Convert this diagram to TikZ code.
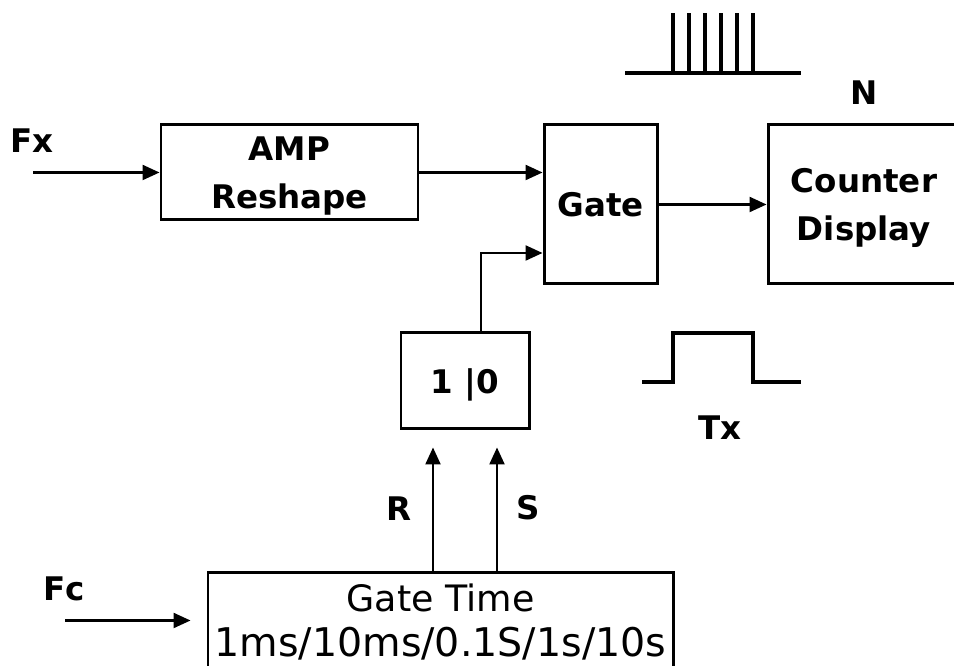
\documentclass[tikz,border=0pt]{standalone}
\usepackage{fontspec}
\setmainfont{DejaVu Sans}
\usetikzlibrary{arrows.meta}

\begin{document}
\begin{tikzpicture}[
    blk/.style={draw,line width=1.7pt,inner sep=0pt,align=center,text depth=0pt,font=\fontsize{18.5}{27.3}\selectfont\bfseries},
    lbl/.style={inner sep=0pt,font=\fontsize{18.5}{22}\selectfont\bfseries},
    conn/.style={line width=1.3pt,-{Triangle[length=0.34cm,width=0.3cm]}},
    sig/.style={line width=2pt}
]
    \useasboundingbox (0,0) rectangle (19.08,13.32);
    \clip (0,0) rectangle (19.08,13.32);

    \node[blk,minimum width=5.14cm,minimum height=1.9cm] (amp) at (5.79,9.87) {AMP\\Reshape};
    \node[blk,minimum width=2.26cm,minimum height=3.18cm] (gate) at (12.01,9.23) {Gate};
    \node[blk,minimum width=3.84cm,minimum height=3.18cm] (counter) at (17.28,9.23) {Counter\\Display};
    \node[blk,minimum width=2.56cm,minimum height=1.92cm] (flip) at (9.30,5.70) {1 |0};
    \node[blk,minimum width=9.30cm,minimum height=1.90cm,font=\fontsize{20.7}{25.6}\selectfont] (gtime) at (8.81,0.91)
        {Gate Time\\{\fontsize{22.5}{25.6}\selectfont 1ms/10ms/0.1S/1s/10s}};

    \node[lbl] (fx) at (0.64,10.51) {Fx};
    \node[lbl] (fc) at (1.28,1.54) {Fc};
    \node[lbl] (n) at (17.28,11.47) {N};
    \node[lbl] (tx) at (14.40,4.77) {Tx};
    \node[lbl] (r) at (7.98,3.15) {R};
    \node[lbl] (s) at (10.56,3.17) {S};

    \coordinate (fxin) at (0.66,9.87);
    \coordinate (fcin) at (1.30,0.91);
    \coordinate (rtip) at ([xshift=-0.64cm,yshift=-0.34cm]flip.south);
    \coordinate (stip) at ([xshift=0.64cm,yshift=-0.34cm]flip.south);

    \draw[conn] (fxin) -- (amp.west);
    \draw[conn] (amp.east) -- (amp.east -| gate.west);
    \draw[conn] (gate.east) -- (counter.west);
    \draw[conn] ([xshift=0.32cm]flip.north) |- ([yshift=-0.97cm]gate.west);
    \draw[conn] (rtip |- gtime.north) -- (rtip);
    \draw[conn] (stip |- gtime.north) -- (stip);
    \draw[conn] (fcin) -- ([xshift=-0.32cm]gtime.west);

    \draw[sig] (12.50,11.86) -- (16.02,11.86);
    \foreach \i in {0,...,5}
        \draw[sig] ({13.46+0.32*\i},11.86) -- ++(0,1.20);
    \draw[sig] (12.84,5.68) -- (13.46,5.68) -- (13.46,6.66) -- (15.06,6.66) -- (15.06,5.68) -- (16.02,5.68);
\end{tikzpicture}
\end{document}
